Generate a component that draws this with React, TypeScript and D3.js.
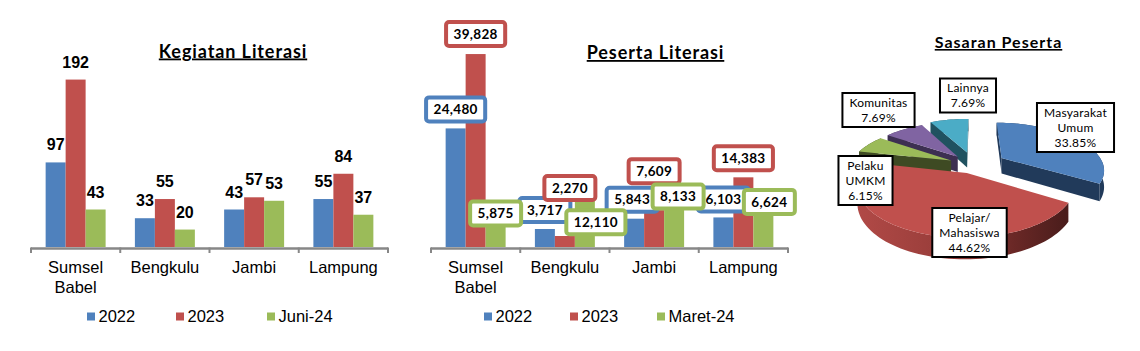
import React from 'react';
import * as d3 from 'd3';

// ---------- DATA ----------
const categories = ['Sumsel Babel', 'Bengkulu', 'Jambi', 'Lampung'];
const categoryLines = [['Sumsel', 'Babel'], ['Bengkulu'], ['Jambi'], ['Lampung']];

const kegiatanSeries = ['2022', '2023', 'Juni-24'];
const kegiatan2022 = [97, 33, 43, 55];
const kegiatan2023 = [192, 55, 57, 84];
const kegiatanJuni24 = [43, 20, 53, 37];

const pesertaSeries = ['2022', '2023', 'Maret-24'];
const peserta2022 = [24480, 3717, 5843, 6103];
const peserta2023 = [39828, 2270, 7609, 14383];
const pesertaMaret24 = [5875, 12110, 8133, 6624];

const sasaranLabels = [['Masyarakat', 'Umum'], ['Pelajar/', 'Mahasiswa'], ['Pelaku', 'UMKM'], ['Komunitas'], ['Lainnya']];
const sasaranPct = [33.85, 44.62, 6.15, 7.69, 7.69];

// ---------- LAYOUT / STYLE ----------
const W = 1140, H = 351;
const BAR_COLORS = ['#4F81BD', '#C0504D', '#9BBB59'];
const PIE_TOP = ['#4F81BD', '#C0504D', '#9BBB59', '#8064A2', '#4BACC6'];
const PIE_SIDE = ['#213A5A', 'url(#redSide)', '#3E4A23', '#3D2F52', '#205260'];
const PIE_EXPLODE = [0.32, 0.18, 0.25, 0.25, 0.3];
// manual label nudges for the Peserta chart: [series][category] -> [dx, dy] from (bar centre, bar top - 19)
const pesertaLabelShift = [
  [[0, 0], [0, 0], [-2, 0], [0, 1]],
  [[0, -1], [5, -29], [0, -20], [0, 0]],
  [[0, 14], [11, 53], [4, 8], [6, 6]],
];
const pieLabelPos = [[1075.5, 127.5], [969.5, 232.5], [865.5, 180.5], [878.5, 110], [968, 95.5]];

const FONT_AX = '"Liberation Sans", Arial, sans-serif';
const FONT_CAL = 'Lato, "Open Sans", sans-serif';

let measureCtx: CanvasRenderingContext2D | null = null;
function textWidth(s: string, font: string, spacing = 0) {
  if (!measureCtx) measureCtx = document.createElement('canvas').getContext('2d');
  if (!measureCtx) return s.length * 7;
  measureCtx.font = font;
  return measureCtx.measureText(s).width + spacing * s.length;
}

interface BarProps {
  x0: number; x1: number; yMax: number; series: string[]; values: number[][];
  legendX: number[]; title: string; titleX: number; titleY: number; boxed: boolean;
}

function BarChart({ x0: left, x1: right, yMax, series, values, legendX, title, titleX, titleY, boxed }: BarProps) {
  const baseY = 247;
  const y = d3.scaleLinear().domain([0, yMax]).range([baseY, 29]);
  const xc = d3.scaleBand<string>().domain(categories).range([left, right]);
  const bw = xc.bandwidth();
  const xs = d3.scaleBand<string>().domain(series).range([bw * 0.164, bw * 0.836]);
  const fmt = d3.format(',');
  const tickXs = [...categories.map((c) => xc(c) as number), right];

  const labels: React.ReactNode[] = [];
  series.forEach((s, j) => {
    values[j].forEach((v, i) => {
      const cx = (xc(categories[i]) as number) + (xs(s) as number) + xs.bandwidth() / 2;
      const top = y(v);
      if (!boxed) {
        labels.push(
          <text key={`l${j}-${i}`} x={cx} y={top - 12} textAnchor="middle"
            style={{ font: `bold 16px ${FONT_AX}` }} fill="#000">{v}</text>
        );
      } else {
        const str = fmt(v);
        const tw = textWidth(str, `bold 13.5px ${FONT_CAL}`, 0.3);
        const [dx, dy] = pesertaLabelShift[j][i];
        const bx = cx + dx, by = top - 19 + dy;
        const rw = tw + 15, rh = 24;
        labels.push(
          <g key={`l${j}-${i}`}>
            <rect x={bx - rw / 2} y={by - rh / 2} width={rw} height={rh} rx={3} ry={3}
              fill="#fff" stroke={BAR_COLORS[j]} strokeWidth={4} />
            <text x={bx} y={by + 4.8} textAnchor="middle"
              style={{ font: `bold 13.5px ${FONT_CAL}`, letterSpacing: '0.3px' }} fill="#000">{str}</text>
          </g>
        );
      }
    });
  });

  return (
    <g>
      <text x={titleX} y={titleY} textAnchor="middle"
        style={{ font: `bold 18px ${FONT_CAL}`, letterSpacing: '0.9px', textDecoration: 'underline' }} fill="#000">{title}</text>
      {series.map((s, j) =>
        values[j].map((v, i) => (
          <rect key={`b${j}-${i}`} x={(xc(categories[i]) as number) + (xs(s) as number)} y={y(v)}
            width={xs.bandwidth()} height={baseY - y(v)} fill={BAR_COLORS[j]} />
        ))
      )}
      <line x1={left} x2={right} y1={248.5} y2={248.5} stroke="#878787" strokeWidth={2.5} />
      {tickXs.map((tx, k) => (
        <line key={`t${k}`} x1={tx} x2={tx} y1={247.5} y2={253} stroke="#878787" strokeWidth={2} />
      ))}
      {categories.map((c, i) =>
        categoryLines[i].map((ln, k) => (
          <text key={`c${i}-${k}`} x={(xc(c) as number) + bw / 2} y={273 + k * 20} textAnchor="middle"
            style={{ font: `16.5px ${FONT_AX}` }} fill="#000">{ln}</text>
        ))
      )}
      {labels}
      {series.map((s, j) => (
        <g key={`lg${j}`}>
          <rect x={legendX[j]} y={312.5} width={8} height={8} fill={BAR_COLORS[j]} />
          <text x={legendX[j] + 11.5} y={322} style={{ font: `16.5px ${FONT_AX}` }} fill="#000">{s}</text>
        </g>
      ))}
    </g>
  );
}

// ---------- PIE (3D, perspective) ----------
const PV = { cx: 974, cy: 165, k: 102, ks: 46, p: 0.224, d: 16 };
function proj(u: number, v: number, h: number): [number, number] {
  const den = 1 + PV.p * v;
  return [PV.cx + (PV.k * u) / den, PV.cy - (PV.ks * v) / den + (PV.d * h) / den];
}

function Pie3D() {
  const arcs = d3.pie<number>().sort(null).value((d) => d)(sasaranPct);
  const slices = arcs.map((a, i) => {
    const mid = (a.startAngle + a.endAngle) / 2;
    const e = PIE_EXPLODE[i];
    const eu = e * Math.sin(mid), ev = e * Math.cos(mid);
    const pt = (ang: number, r: number, h: number) => proj(eu + r * Math.sin(ang), ev + r * Math.cos(ang), h);
    const n = Math.max(8, Math.ceil(((a.endAngle - a.startAngle) / (2 * Math.PI)) * 160));
    const angs = d3.range(n + 1).map((k) => a.startAngle + ((a.endAngle - a.startAngle) * k) / n);
    const apex0 = pt(0, 0, 0), apex1 = pt(0, 0, 1);
    const top = [apex0, ...angs.map((g) => pt(g, 1, 0))];
    const side = [...angs.map((g) => pt(g, 1, 0)), ...angs.slice().reverse().map((g) => pt(g, 1, 1))];
    const q = pt(mid, 0.5, 0);
    const walls: [number, number][][] = [];
    [a.startAngle, a.endAngle].forEach((g) => {
      const o0 = pt(g, 1, 0), o1 = pt(g, 1, 1);
      const ex = o0[0] - apex0[0], ey = o0[1] - apex0[1];
      const c = ex * (q[1] - apex0[1]) - ey * (q[0] - apex0[0]);
      const cd = ex;
      if (Math.sign(c) !== Math.sign(cd)) walls.push([apex0, o0, o1, apex1]);
    });
    return { i, mid, top, side, walls, depthKey: Math.cos(mid) };
  });
  const order = slices.slice().sort((a, b) => b.depthKey - a.depthKey);
  const line = (pts: [number, number][]) => 'M' + pts.map((p) => `${p[0].toFixed(2)},${p[1].toFixed(2)}`).join('L') + 'Z';

  return (
    <g>
      <defs>
        <linearGradient id="redSide" gradientUnits="userSpaceOnUse" x1={860} y1={0} x2={1065} y2={0}>
          <stop offset="0" stopColor="#B04946" />
          <stop offset="0.45" stopColor="#963C39" />
          <stop offset="0.75" stopColor="#6A2826" />
          <stop offset="1" stopColor="#4B1D1C" />
        </linearGradient>
      </defs>
      {order.map((s) => (
        <g key={`s${s.i}`}>
          {s.walls.map((w, k) => (
            <path key={k} d={line(w)} fill={s.i === 1 ? '#7A2F2D' : PIE_SIDE[s.i]} />
          ))}
          <path d={line(s.side)} fill={PIE_SIDE[s.i]} />
        </g>
      ))}
      {order.map((s) => (
        <path key={`t${s.i}`} d={line(s.top)} fill={PIE_TOP[s.i]} />
      ))}
      {sasaranLabels.map((lines, i) => {
        const all = [...lines, `${sasaranPct[i].toFixed(2)}%`];
        const font = `12px ${FONT_CAL}`;
        const tw = Math.max(...all.map((t) => textWidth(t, font, 0.25)));
        const rw = tw + 14, rh = all.length * 15 + 4;
        const [cx, cy] = pieLabelPos[i];
        return (
          <g key={`pl${i}`}>
            <rect x={cx - rw / 2} y={cy - rh / 2} width={rw} height={rh} fill="#fff" stroke="#000" strokeWidth={2} />
            {all.map((t, k) => (
              <text key={k} x={cx} y={cy + (k - (all.length - 1) / 2) * 15 + 4.2} textAnchor="middle"
                style={{ font, letterSpacing: '0.25px' }} fill="#000">{t}</text>
            ))}
          </g>
        );
      })}
    </g>
  );
}

export default function App() {
  return (
    <svg width={W} height={H} viewBox={`0 0 ${W} ${H}`}
      style={{ position: 'absolute', left: 0, top: 0, background: '#fff' }}>
      <rect x={0} y={0} width={W} height={H} fill="#fff" />
      <BarChart x0={31} x1={388} yMax={250} series={kegiatanSeries}
        values={[kegiatan2022, kegiatan2023, kegiatanJuni24]} legendX={[87, 176, 267]}
        title="Kegiatan Literasi" titleX={233} titleY={57.5} boxed={false} />
      <BarChart x0={431} x1={788} yMax={45000} series={pesertaSeries}
        values={[peserta2022, peserta2023, pesertaMaret24]} legendX={[484, 570, 657]}
        title="Peserta Literasi" titleX={655.5} titleY={59} boxed={true} />
      <text x={998.5} y={48} textAnchor="middle"
        style={{ font: `bold 16px ${FONT_CAL}`, letterSpacing: '1px', textDecoration: 'underline' }} fill="#000">Sasaran Peserta</text>
      <Pie3D />
    </svg>
  );
}
